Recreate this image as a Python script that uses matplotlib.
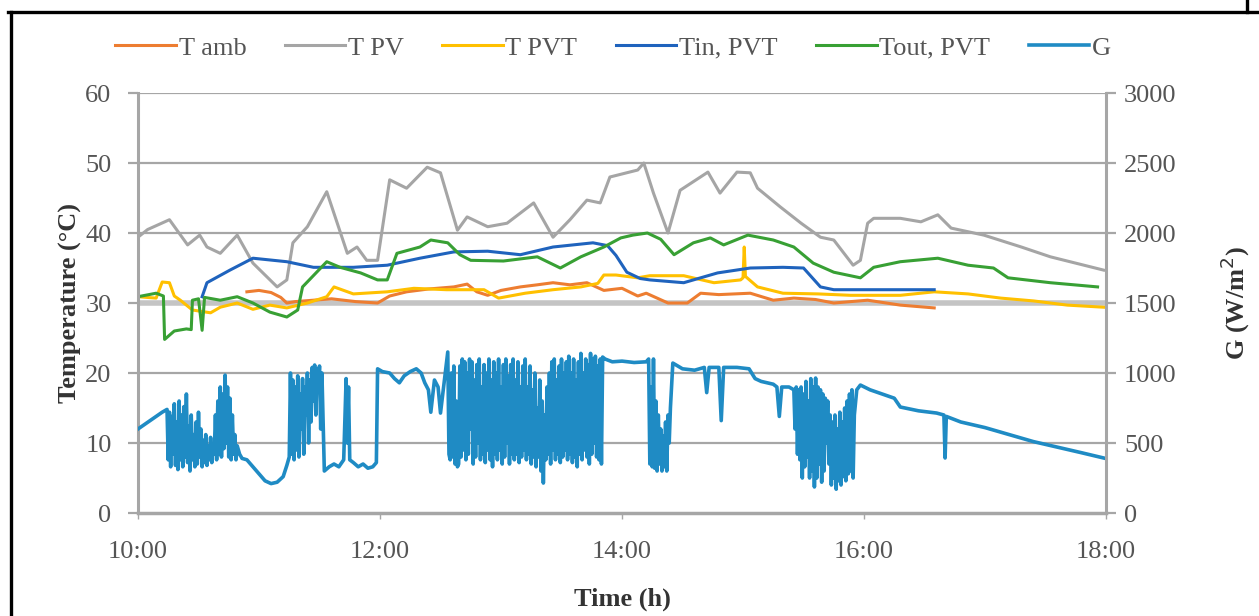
import numpy as np
import matplotlib.pyplot as plt
from matplotlib.lines import Line2D

plt.rcParams['font.family'] = ['Liberation Serif', 'DejaVu Serif']

# Datos (hora decimal, valor)
t_amb_h = [10.90, 11.00, 11.10, 11.18, 11.23, 11.30, 11.45, 11.60, 11.80, 11.98, 12.08, 12.22,
           12.40, 12.61, 12.72, 12.80, 12.89, 13.00, 13.16, 13.30, 13.43, 13.57, 13.71, 13.85,
           13.90, 14.00, 14.13, 14.20, 14.38, 14.54, 14.65, 14.80, 15.06, 15.25, 15.42, 15.60,
           15.75, 16.03, 16.30, 16.58]
t_amb = [31.6, 31.8, 31.5, 30.8, 30.0, 30.2, 30.4, 30.6, 30.2, 30.0, 31.0, 31.6,
         32.0, 32.3, 32.7, 31.6, 31.1, 31.8, 32.3, 32.6, 32.9, 32.6, 32.9, 31.8,
         31.9, 32.1, 31.0, 31.4, 30.0, 30.0, 31.4, 31.2, 31.4, 30.4, 30.7, 30.5,
         30.0, 30.4, 29.7, 29.3]

t_pv_h = [10.00, 10.08, 10.26, 10.41, 10.51, 10.57, 10.68, 10.82, 10.95, 11.15, 11.23, 11.28,
          11.40, 11.56, 11.73, 11.81, 11.89, 11.98, 12.08, 12.22, 12.39, 12.50, 12.64, 12.72,
          12.89, 13.05, 13.27, 13.43, 13.57, 13.71, 13.82, 13.90, 14.13, 14.18, 14.26, 14.38,
          14.48, 14.71, 14.81, 14.95, 15.06, 15.12, 15.31, 15.48, 15.64, 15.75, 15.91, 15.97,
          16.03, 16.08, 16.30, 16.47, 16.61, 16.72, 16.99, 17.30, 17.54, 17.98]
t_pv = [39.4, 40.5, 41.9, 38.3, 39.7, 38.0, 37.1, 39.7, 35.7, 32.3, 33.3, 38.6,
        40.9, 45.9, 37.1, 38.0, 36.1, 36.1, 47.6, 46.4, 49.4, 48.6, 40.4, 42.3,
        40.9, 41.4, 44.3, 39.4, 41.9, 44.7, 44.3, 48.0, 49.0, 50.0, 45.7, 40.0,
        46.1, 48.7, 45.7, 48.7, 48.6, 46.4, 43.7, 41.4, 39.4, 39.0, 35.4, 36.1,
        41.4, 42.1, 42.1, 41.6, 42.6, 40.7, 39.7, 38.0, 36.6, 34.7]

t_pvt_h = [10.00, 10.15, 10.20, 10.26, 10.30, 10.35, 10.45, 10.60, 10.68, 10.82, 10.95, 11.09,
           11.23, 11.40, 11.56, 11.62, 11.78, 12.06, 12.28, 12.55, 12.86, 12.98, 13.20, 13.43,
           13.66, 13.80, 13.85, 13.95, 14.13, 14.23, 14.51, 14.76, 14.98, 15.00, 15.01, 15.02,
           15.12, 15.33, 15.62, 15.89, 16.30, 16.58, 16.86, 17.13, 17.40, 17.68, 17.98]
t_pvt = [30.9, 30.7, 33.0, 32.9, 31.0, 30.4, 29.0, 28.6, 29.4, 30.0, 29.1, 29.7,
         29.3, 30.0, 30.9, 32.3, 31.3, 31.6, 32.1, 31.9, 31.9, 30.7, 31.4, 31.9,
         32.3, 32.8, 34.0, 34.0, 33.6, 33.9, 33.9, 32.9, 33.3, 33.6, 38.0, 33.8,
         32.3, 31.4, 31.3, 31.1, 31.1, 31.6, 31.3, 30.7, 30.3, 29.7, 29.4]

t_in_h = [10.53, 10.57, 10.76, 10.95, 11.23, 11.45, 11.78, 12.06, 12.33, 12.61, 12.89, 13.16,
          13.43, 13.76, 13.88, 13.95, 14.04, 14.15, 14.23, 14.51, 14.79, 15.06, 15.33, 15.50,
          15.64, 15.75, 16.58]
t_in = [30.9, 32.9, 34.7, 36.4, 35.9, 35.1, 35.1, 35.4, 36.4, 37.3, 37.4, 36.9,
        38.0, 38.6, 38.2, 36.8, 34.4, 33.5, 33.3, 32.9, 34.3, 35.0, 35.1, 35.0,
        32.3, 31.9, 31.9]

t_out_h = [10.00, 10.15, 10.21, 10.22, 10.30, 10.40, 10.44, 10.45, 10.50, 10.53, 10.55, 10.68,
           10.82, 10.95, 11.09, 11.23, 11.32, 11.36, 11.56, 11.67, 11.84, 11.98, 12.06, 12.14,
           12.33, 12.42, 12.56, 12.66, 12.75, 13.02, 13.30, 13.49, 13.66, 13.85, 13.99, 14.09,
           14.21, 14.32, 14.43, 14.59, 14.73, 14.84, 15.04, 15.25, 15.42, 15.58, 15.75, 15.97,
           16.08, 16.30, 16.61, 16.86, 17.07, 17.19, 17.54, 17.93]
t_out = [30.9, 31.4, 31.0, 24.8, 26.0, 26.3, 26.2, 30.4, 30.6, 26.1, 30.8, 30.4,
         30.9, 30.0, 28.7, 28.0, 29.0, 32.3, 35.9, 35.1, 34.3, 33.3, 33.3, 37.1,
         38.0, 39.0, 38.6, 36.9, 36.1, 36.0, 36.6, 35.0, 36.6, 38.0, 39.3, 39.7,
         40.0, 39.1, 36.9, 38.6, 39.3, 38.3, 39.7, 39.0, 38.0, 35.7, 34.4, 33.6,
         35.1, 35.9, 36.4, 35.4, 35.0, 33.6, 32.9, 32.3]

# Radiación G (W/m²): pares (hora, valor) leídos tramo a tramo
g_pts = [
    (10.00, 600), (10.10, 660), (10.20, 720), (10.24, 740),
    (10.25, 380), (10.26, 720), (10.27, 330), (10.28, 690), (10.29, 420), (10.30, 780),
    (10.31, 340), (10.32, 650), (10.33, 310), (10.34, 800), (10.35, 380), (10.36, 700),
    (10.37, 330), (10.38, 760), (10.39, 400), (10.40, 850), (10.41, 360), (10.42, 620),
    (10.43, 300), (10.44, 700), (10.45, 380), (10.46, 560), (10.47, 330), (10.48, 650),
    (10.49, 350), (10.50, 720), (10.51, 400), (10.52, 600), (10.53, 330), (10.54, 520),
    (10.55, 360), (10.56, 560), (10.57, 340), (10.58, 480), (10.59, 380), (10.60, 540),
    (10.61, 360), (10.62, 480), (10.63, 420), (10.64, 700), (10.65, 380), (10.66, 800),
    (10.67, 420), (10.68, 900), (10.69, 400), (10.70, 850), (10.71, 460), (10.72, 985),
    (10.73, 500), (10.74, 900), (10.75, 400), (10.76, 820), (10.77, 380), (10.78, 700),
    (10.79, 420), (10.80, 560), (10.81, 380), (10.82, 480), (10.84, 420), (10.86, 390),
    (10.90, 380), (10.95, 330), (11.00, 280), (11.05, 230), (11.10, 210), (11.15, 220),
    (11.20, 260), (11.23, 340),
    (11.25, 400), (11.26, 1000), (11.27, 420), (11.28, 950), (11.29, 380), (11.30, 900),
    (11.31, 450), (11.32, 980), (11.33, 400), (11.34, 850), (11.35, 600), (11.36, 960),
    (11.37, 420), (11.38, 900), (11.39, 700), (11.40, 1000), (11.41, 500), (11.42, 950),
    (11.43, 650), (11.44, 1040), (11.45, 800), (11.46, 1057), (11.47, 700), (11.48, 1030),
    (11.49, 900), (11.50, 1050), (11.51, 600), (11.52, 1000), (11.54, 300),
    (11.58, 330), (11.62, 350), (11.66, 330), (11.70, 380), (11.72, 960), (11.73, 500),
    (11.74, 900), (11.75, 380), (11.78, 360), (11.82, 330), (11.86, 350), (11.90, 320),
    (11.94, 330), (11.97, 360),
    (11.98, 1030), (12.02, 1010), (12.08, 1000), (12.12, 960), (12.16, 930), (12.20, 980),
    (12.25, 1010), (12.30, 1030), (12.34, 1000), (12.37, 930), (12.40, 880), (12.42, 720),
    (12.45, 950), (12.48, 900), (12.50, 714),
    (12.56, 1150), (12.57, 420), (12.58, 380), (12.59, 1000), (12.60, 400), (12.61, 1050),
    (12.62, 350), (12.63, 800), (12.64, 330), (12.65, 350), (12.66, 1050), (12.67, 400),
    (12.68, 1100), (12.69, 450), (12.70, 1080), (12.71, 380), (12.72, 1000), (12.73, 420),
    (12.74, 1100), (12.75, 600), (12.76, 1080), (12.77, 350), (12.78, 950), (12.79, 400),
    (12.80, 1060), (12.81, 500), (12.82, 1100), (12.83, 380), (12.84, 900), (12.85, 420),
    (12.86, 1060), (12.87, 360), (12.88, 1000), (12.89, 450), (12.90, 1100), (12.91, 380),
    (12.92, 950), (12.93, 330), (12.94, 1080), (12.95, 420), (12.96, 1000), (12.97, 380),
    (12.98, 1100), (12.99, 450), (13.00, 900), (13.01, 350), (13.02, 1060), (13.03, 400),
    (13.04, 1100), (13.05, 500), (13.06, 980), (13.07, 350), (13.08, 1060), (13.09, 420),
    (13.10, 1100), (13.11, 380), (13.12, 950), (13.13, 420), (13.14, 1080), (13.15, 360),
    (13.16, 900), (13.17, 400), (13.18, 1050), (13.19, 450), (13.20, 1100), (13.21, 380),
    (13.22, 900), (13.23, 420), (13.24, 1050), (13.25, 350), (13.26, 880), (13.27, 400),
    (13.28, 1000), (13.29, 330), (13.30, 750), (13.31, 400), (13.32, 950), (13.33, 300),
    (13.34, 800), (13.35, 214), (13.36, 700), (13.37, 380), (13.38, 900), (13.39, 420),
    (13.40, 1000), (13.41, 350), (13.42, 1080), (13.43, 450), (13.44, 1100), (13.45, 380),
    (13.46, 950), (13.47, 420), (13.48, 1050), (13.49, 360), (13.50, 1100), (13.51, 400),
    (13.52, 1000), (13.53, 450), (13.54, 1080), (13.55, 380), (13.56, 1120), (13.57, 420),
    (13.58, 1000), (13.59, 360), (13.60, 1100), (13.61, 400), (13.62, 950), (13.63, 330),
    (13.64, 1080), (13.65, 420), (13.66, 1140), (13.67, 380), (13.68, 1000), (13.69, 450),
    (13.70, 1100), (13.71, 400), (13.72, 1060), (13.73, 350), (13.74, 1140), (13.75, 420),
    (13.76, 1100), (13.77, 500), (13.78, 1120), (13.79, 400), (13.80, 1050), (13.81, 380),
    (13.82, 1100), (13.83, 350), (13.84, 1114), (13.86, 1100), (13.92, 1080),
    (14.00, 1085), (14.10, 1075), (14.20, 1080), (14.22, 1100),
    (14.23, 350), (14.24, 900), (14.25, 330), (14.26, 1100), (14.27, 320), (14.28, 800),
    (14.29, 300), (14.30, 700), (14.31, 350), (14.32, 600), (14.33, 300), (14.34, 550),
    (14.35, 330), (14.36, 650), (14.37, 300), (14.38, 700), (14.39, 500), (14.40, 750),
    (14.42, 1071), (14.50, 1030), (14.60, 1020), (14.68, 1040), (14.70, 860), (14.72, 1040),
    (14.80, 1040), (14.82, 660), (14.84, 1040), (14.95, 1040), (15.05, 1030), (15.10, 960),
    (15.15, 940), (15.25, 920), (15.28, 900), (15.30, 690), (15.32, 900), (15.38, 900),
    (15.42, 880), (15.43, 600), (15.44, 900), (15.45, 420), (15.46, 880), (15.47, 380),
    (15.48, 900), (15.49, 250), (15.50, 850), (15.51, 330), (15.52, 940), (15.53, 400),
    (15.54, 800), (15.55, 250), (15.56, 960), (15.57, 300), (15.58, 900), (15.59, 186),
    (15.60, 964), (15.61, 250), (15.62, 900), (15.63, 350), (15.64, 880), (15.65, 220),
    (15.66, 850), (15.67, 300), (15.68, 820), (15.69, 500), (15.70, 800), (15.71, 350),
    (15.72, 700), (15.73, 200), (15.74, 650), (15.75, 250), (15.76, 700), (15.77, 170),
    (15.78, 600), (15.79, 230), (15.80, 720), (15.81, 200), (15.82, 650), (15.83, 260),
    (15.84, 750), (15.85, 230), (15.86, 800), (15.87, 280), (15.88, 850), (15.89, 300),
    (15.90, 880), (15.91, 250), (15.92, 700), (15.94, 880), (15.97, 914),
    (16.05, 880), (16.15, 850), (16.25, 820), (16.30, 757), (16.45, 730), (16.60, 714),
    (16.66, 700), (16.67, 393), (16.68, 690), (16.80, 650), (17.00, 610), (17.20, 560),
    (17.40, 510), (17.60, 470), (17.80, 430), (17.98, 393),
]
g_h = [p[0] for p in g_pts]
g = [p[1] for p in g_pts]

x_ticks = [10, 12, 14, 16, 18]
x_tick_labels = ['10:00', '12:00', '14:00', '16:00', '18:00']

gris = '#a6a6a6'
texto = '#555555'
fs = 19

fig = plt.figure(figsize=(12.59, 6.16), dpi=100)
ax = fig.add_axes([0.1096, 0.1672, 0.7689, 0.6818])
ax2 = ax.twinx()

l1, = ax.plot(t_amb_h, t_amb, color='#ed7d31', lw=2.2, label='T amb')
l2, = ax.plot(t_pv_h, t_pv, color='#a5a5a5', lw=2.2, label='T PV')
l3, = ax.plot(t_pvt_h, t_pvt, color='#ffc000', lw=2.2, label='T PVT')
l4, = ax.plot(t_in_h, t_in, color='#1f63bd', lw=2.2, label='Tin, PVT')
l5, = ax.plot(t_out_h, t_out, color='#38a034', lw=2.2, label='Tout, PVT')
l6, = ax2.plot(g_h, g, color='#1f8bc4', lw=2.6, label='G')

ax.set_xlim(10, 18)
ax.set_ylim(0, 60)
ax2.set_ylim(0, 3000)
ax.set_yticks(np.arange(0, 61, 10))
ax2.set_yticks(np.arange(0, 3001, 500))
ax.set_xticks(x_ticks)
ax.set_xticklabels(x_tick_labels)

# rejilla horizontal
for v in range(10, 61, 10):
    ax.axhline(v, color=gris if v != 30 else '#c4c4c4', lw=1.6 if v != 30 else 4, zorder=0)

for a in (ax, ax2):
    for s in a.spines.values():
        s.set_visible(False)
ax.spines['left'].set_visible(True)
ax.spines['left'].set_color(gris)
ax.spines['left'].set_linewidth(2.2)
ax.spines['bottom'].set_visible(True)
ax.spines['bottom'].set_color(gris)
ax.spines['bottom'].set_linewidth(2.5)
ax2.spines['right'].set_visible(True)
ax2.spines['right'].set_color(gris)
ax2.spines['right'].set_linewidth(2.2)

ax.tick_params(axis='y', length=7, width=1.6, color=gris, labelsize=fs, labelcolor=texto, pad=12)
ax.tick_params(axis='x', length=4, width=1, color=gris, labelsize=fs, labelcolor=texto, pad=16)
ax2.tick_params(axis='y', length=7, width=1.6, color=gris, labelsize=fs, labelcolor=texto, pad=6)

ax.set_xlabel('Time (h)', fontsize=fs, fontweight='bold', color='#333333', labelpad=18)
ax.set_ylabel('Temperature (°C)', fontsize=fs, fontweight='bold', color='#333333', labelpad=2)
ax2.set_ylabel('G (W/m$^2$)', fontsize=fs, fontweight='bold', color='#333333', labelpad=30, rotation=90)

fig.legend(handles=[l1, l2, l3, l4, l5, l6], loc='upper center', bbox_to_anchor=(0.487, 0.98),
           ncol=6, frameon=False, handlelength=2.3, handletextpad=0.1, columnspacing=1.45,
           prop={'size': fs}, labelcolor=texto)

# marco negro del recorte
fig.add_artist(Line2D([0.006, 1.0], [0.9805, 0.9805], color='black', lw=2.4))
fig.add_artist(Line2D([0.0085, 0.0085], [0.0, 0.9805], color='black', lw=2.4))
fig.add_artist(Line2D([0.9905, 0.9905], [0.9805, 1.0], color='black', lw=2.4))

fig.savefig('out.png', dpi=100)
